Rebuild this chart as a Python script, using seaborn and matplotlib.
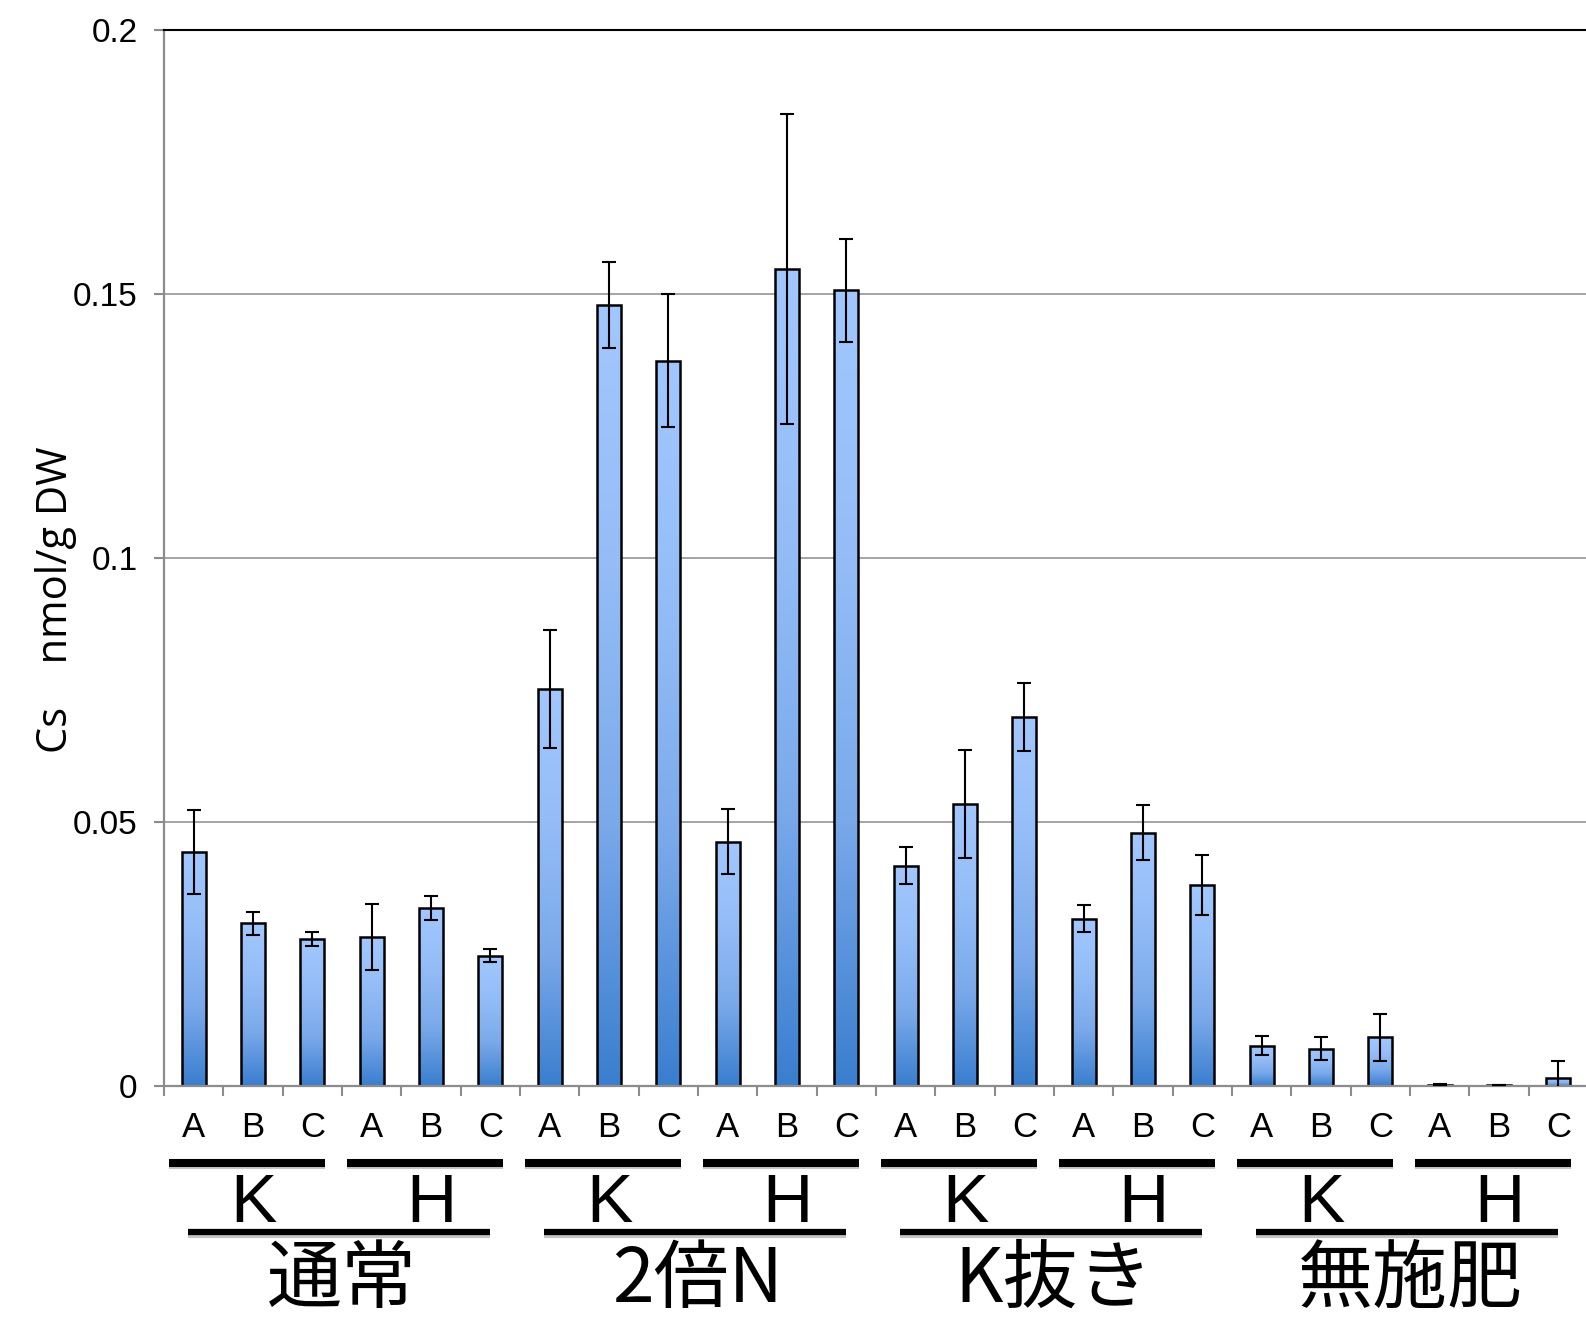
import numpy as np
import pandas as pd
import matplotlib
matplotlib.use("Agg")
import matplotlib.pyplot as plt
import seaborn as sns
from matplotlib.colors import LinearSegmentedColormap
from matplotlib import patheffects

# Treatments, cultivars and samples
treatments = ["通常", "2倍N", "K抜き", "無施肥"]
cultivars = ["K", "H"]
samples = ["A", "B", "C"]

# Cs content (nmol/g DW), in order treatment -> cultivar -> sample
cs_mean = [
    0.0443, 0.0308, 0.0278,  0.0282, 0.0337, 0.0247,   # 通常
    0.0752, 0.1479, 0.1374,  0.0463, 0.1547, 0.1507,   # 2倍N
    0.0417, 0.0534, 0.0699,  0.0317, 0.0480, 0.0381,   # K抜き
    0.0076, 0.0071, 0.0092,  0.0002, 0.0001, 0.0015,   # 無施肥
]
cs_err = [
    0.0079, 0.0022, 0.0013,  0.0063, 0.0022, 0.0012,
    0.0111, 0.0081, 0.0126,  0.0061, 0.0294, 0.0097,
    0.0035, 0.0103, 0.0065,  0.0025, 0.0052, 0.0057,
    0.0018, 0.0021, 0.0044,  0.0001, 0.0000, 0.0033,
]
y_ticks = [0, 0.05, 0.1, 0.15, 0.2]
y_ticklabels = ["0", "0.05", "0.1", "0.15", "0.2"]

rows = []
for ti, t in enumerate(treatments):
    for ci, c in enumerate(cultivars):
        for si, s in enumerate(samples):
            i = ti * 6 + ci * 3 + si
            rows.append({"id": f"{t}-{c}-{s}", "treatment": t, "cultivar": c,
                         "sample": s, "cs": cs_mean[i], "err": cs_err[i]})
df = pd.DataFrame(rows)

sns.set_theme(style="white")
plt.rcParams["font.family"] = ["Liberation Sans", "Noto Sans CJK JP", "DejaVu Sans"]
plt.rcParams["text.color"] = "black"
plt.rcParams["xtick.labelcolor"] = "black"
plt.rcParams["ytick.labelcolor"] = "black"

fig = plt.figure(figsize=(15.86, 13.19), dpi=100)
ax = fig.add_axes([164 / 1586, 1 - 1086 / 1319, 1424 / 1586, 1056 / 1319])

sns.barplot(data=df, x="id", y="cs", order=list(df["id"]), color="#88b3f0",
            width=0.41, errorbar=None, edgecolor="black", linewidth=1.8, ax=ax)

# vertical gradient fill for each bar
grad_cmap = LinearSegmentedColormap.from_list(
    "bar_grad", ["#3a7ecf", "#7aa9ea", "#94bdf7", "#a2c7fe"])
grad = np.linspace(0, 1, 256).reshape(-1, 1)
centers = []
for patch in ax.patches:
    x0, y0 = patch.get_x(), patch.get_y()
    w, h = patch.get_width(), patch.get_height()
    centers.append(x0 + w / 2)
    if h > 0:
        im = ax.imshow(grad, extent=[x0, x0 + w, y0, y0 + h], origin="lower",
                       cmap=grad_cmap, aspect="auto", zorder=1.5,
                       interpolation="bilinear")
        im.set_clip_path(patch)
    patch.set_zorder(1.6)
    patch.set_facecolor("none")

ax.errorbar(centers, df["cs"], yerr=df["err"], fmt="none", ecolor="black",
            elinewidth=1.5, capsize=5, capthick=1.5, zorder=3)

ax.set_xlim(-0.5, len(df) - 0.5)
ax.set_ylim(0, 0.2)

# axes styling
grid_col = "#8c8c8c"
ax.set_yticks(y_ticks)
ax.set_yticklabels(y_ticklabels, fontsize=24)
ax.yaxis.grid(True, color=grid_col, linewidth=1.1)
ax.xaxis.grid(False)
ax.set_axisbelow(True)
ax.tick_params(axis="y", which="major", direction="out", length=7,
               width=1.5, color=grid_col, pad=12, left=True)

ax.set_xticks(range(len(df)))
ax.set_xticklabels(df["sample"], fontsize=25)
ax.set_xticks(np.arange(-0.5, len(df), 1), minor=True)
ax.tick_params(axis="x", which="major", length=0, pad=18)
ax.tick_params(axis="x", which="minor", direction="out", length=7,
               width=1.5, color=grid_col, bottom=True)
ax.set_xlabel("")
ax.set_ylabel("")

for side in ["left", "bottom"]:
    ax.spines[side].set_color(grid_col)
    ax.spines[side].set_linewidth(1.6)
ax.spines["top"].set_color("black")
ax.spines["top"].set_linewidth(1.5)
ax.spines["right"].set_visible(False)

# y-axis title
fig.text(56 / 1586, 1 - 600 / 1319, "Cs    nmol/g DW", rotation=90,
         ha="center", va="center", fontsize=30, color="black",
         family=["Open Sans", "DejaVu Sans"])

# cultivar and treatment brackets below the axis
trans = ax.get_xaxis_transform()
shadow = [patheffects.SimpleLineShadow(offset=(0, -2), alpha=0.25),
          patheffects.Normal()]
for ti, t in enumerate(treatments):
    for ci, c in enumerate(cultivars):
        cen = ti * 6 + ci * 3 + 1
        ax.plot([cen - 0.1 - 1.32, cen - 0.1 + 1.32], [-0.0726, -0.0726],
                transform=trans, color="black", linewidth=5.8,
                solid_capstyle="butt", clip_on=False, path_effects=shadow)
        ax.text(cen, -0.112, c, transform=trans, ha="center", va="center",
                fontsize=50, color="black")
    gcen = ti * 6 + 2.5
    ax.plot([gcen - 0.05 - 2.54, gcen - 0.05 + 2.54], [-0.138, -0.138],
            transform=trans, color="black", linewidth=4.5,
            solid_capstyle="butt", clip_on=False, path_effects=shadow)
    ax.text(gcen, -0.2045, t, transform=trans, ha="center", va="baseline",
            fontsize=54, color="black", fontweight="normal",
            family=["Noto Sans CJK JP", "DejaVu Sans"])

fig.savefig("out.png", dpi=100, facecolor="white")
